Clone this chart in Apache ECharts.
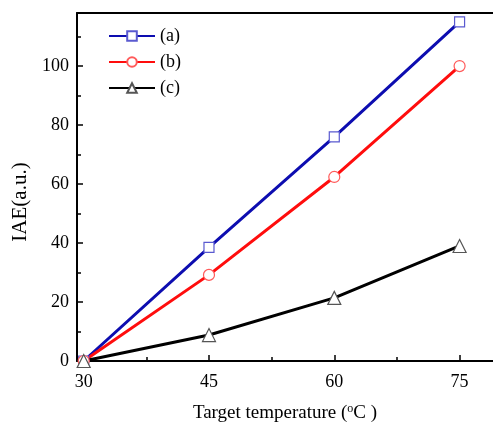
<!DOCTYPE html>
<html>
<head>
<meta charset="utf-8">
<script src="https://cdn.jsdelivr.net/npm/echarts@6/dist/echarts.min.js"></script>
<style>
  html, body { margin: 0; padding: 0; background: #ffffff; }
  #chart { width: 493px; height: 430px; }
</style>
</head>
<body>
<div id="chart"></div>
<script>
// Target temperatures (°C) and integrated absolute error for three controllers
const temperatures = [30, 45, 60, 75];
const seriesA = [0, 38.5, 76, 115];
const seriesB = [0, 29.2, 62.4, 100];
const seriesC = [0, 8.8, 21.4, 39];
const seriesNames = ['(a)', '(b)', '(c)'];

const xMajorTicks = [30, 45, 60, 75];
const xMinorTicks = [37.5, 52.5, 67.5];

const FONT = 'Liberation Serif, Times New Roman, serif';
const X_MIN = 29.2, X_MAX = 79, Y_MIN = 0, Y_MAX = 118, Y_STEP = 20;

const chart = echarts.init(document.getElementById('chart'), null, { renderer: 'canvas' });

function pairs(values) {
  return temperatures.map((t, i) => [t, values[i]]);
}

function lineSeries(name, values, lineColor, markColor, symbol, size) {
  return {
    name: name,
    type: 'line',
    data: pairs(values),
    symbol: symbol,
    symbolSize: size,
    lineStyle: { color: lineColor, width: 3 },
    itemStyle: { color: '#ffffff', borderColor: markColor, borderWidth: 1.2 },
    z: 3
  };
}

// each axis gets its own style objects
function frameLine() {
  return { show: true, onZero: false, lineStyle: { color: '#000', width: 2 } };
}
function tickLine() {
  return { color: '#000', width: 1.5 };
}

chart.setOption({
  backgroundColor: '#ffffff',
  animation: false,
  grid: { left: 77, right: 0, top: 13, bottom: 69, containLabel: false, outerBoundsMode: 'none' },
  legend: {
    orient: 'vertical',
    left: 103,
    top: 22,
    itemWidth: 46,
    itemHeight: 12,
    itemGap: 8,
    data: seriesNames,
    textStyle: { fontFamily: FONT, fontSize: 18, color: '#000' }
  },
  xAxis: [
    {
      type: 'value', min: X_MIN, max: X_MAX, position: 'bottom',
      name: 'Target temperature ({sup|o}C )',
      nameLocation: 'middle',
      nameGap: 42,
      nameTextStyle: {
        fontFamily: FONT, fontSize: 19, color: '#000',
        rich: { sup: { fontFamily: FONT, fontSize: 12, color: '#000', verticalAlign: 'top', padding: [0, 0, 8, 0] } }
      },
      axisLine: frameLine(),
      axisTick: { show: true, inside: true, length: 6, customValues: xMajorTicks, lineStyle: tickLine() },
      axisLabel: { customValues: xMajorTicks, fontFamily: FONT, fontSize: 18, color: '#000', margin: 12 },
      splitLine: { show: false }
    },
    {
      // minor ticks along the bottom axis
      type: 'value', min: X_MIN, max: X_MAX, position: 'bottom',
      axisLine: { show: false, onZero: false },
      axisTick: { show: true, inside: true, length: 4, customValues: xMinorTicks, lineStyle: tickLine() },
      axisLabel: { show: false },
      splitLine: { show: false }
    },
    {
      // top frame line
      type: 'value', min: X_MIN, max: X_MAX, position: 'top',
      axisLine: frameLine(),
      axisTick: { show: false },
      axisLabel: { show: false },
      splitLine: { show: false }
    }
  ],
  yAxis: {
    type: 'value', min: Y_MIN, max: Y_MAX, interval: Y_STEP, position: 'left',
    name: 'IAE(a.u.)',
    nameLocation: 'middle',
    nameGap: 44,
    nameTextStyle: { fontFamily: FONT, fontSize: 21, color: '#000', padding: [0, 30, 0, 0] },
    axisLine: frameLine(),
    axisTick: { show: true, inside: true, length: 6, lineStyle: tickLine() },
    minorTick: { show: true, splitNumber: 2, length: 4, lineStyle: tickLine() },
    axisLabel: { showMaxLabel: false, fontFamily: FONT, fontSize: 18, color: '#000', margin: 8 },
    splitLine: { show: false }
  },
  series: [
    lineSeries(seriesNames[0], seriesA, '#0d0db0', '#5a5ad0', 'rect', 10),
    lineSeries(seriesNames[1], seriesB, '#ff0d0d', '#ff5a5a', 'circle', 11),
    lineSeries(seriesNames[2], seriesC, '#000000', '#555555', 'triangle', 13)
  ]
});
</script>
</body>
</html>
